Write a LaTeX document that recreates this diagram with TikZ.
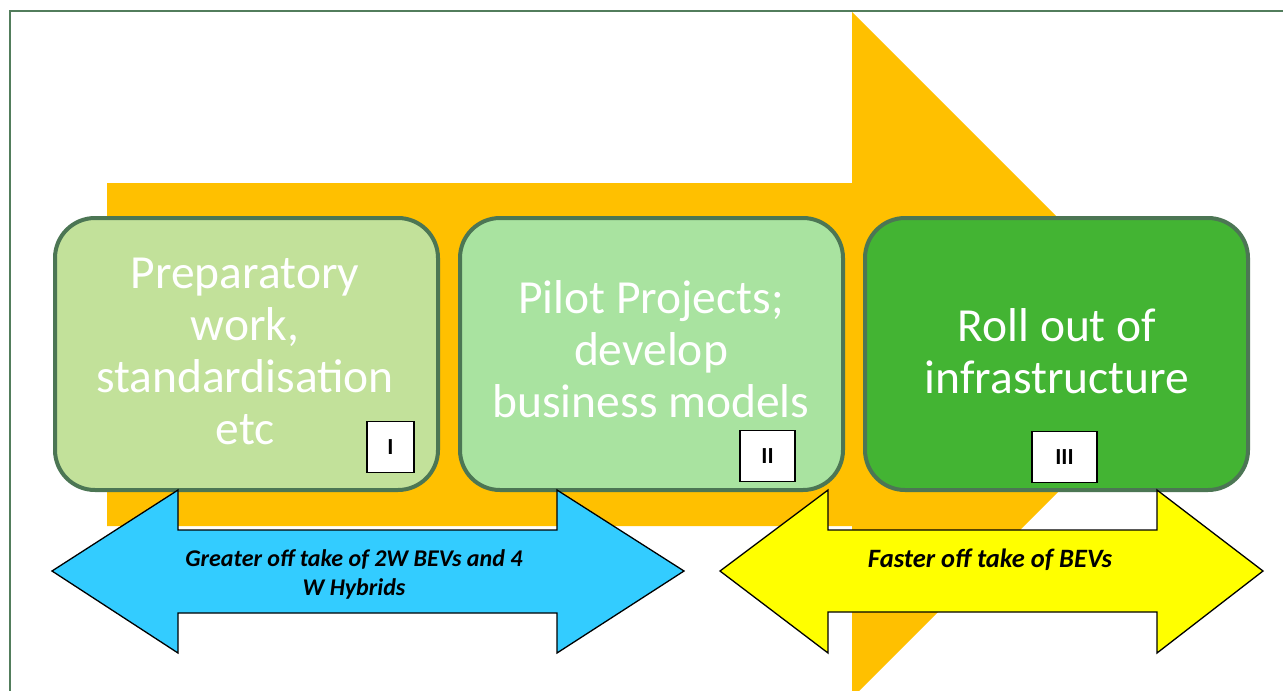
\documentclass[tikz,border=0pt]{standalone}
\usepackage{fontspec}
\setmainfont{Carlito}
\definecolor{framegreen}{RGB}{82,125,92}
\definecolor{boxborder}{RGB}{76,118,84}
\definecolor{orangeA}{RGB}{255,192,0}
\definecolor{fillA}{RGB}{194,225,154}
\definecolor{fillB}{RGB}{169,227,160}
\definecolor{fillC}{RGB}{67,180,51}
\definecolor{blueA}{RGB}{51,204,255}
\definecolor{yellowA}{RGB}{255,255,0}
\begin{document}
\begin{tikzpicture}[x=1pt,y=-1pt,
  stagebox/.style={draw=boxborder, line width=4pt, rounded corners=40pt,
    minimum width=383pt, minimum height=272pt, inner sep=0pt},
  stagetext/.style={text=white, align=center, inner sep=0pt,
    font=\fontsize{47.5}{52}\selectfont},
  numbox/.style={draw=black, fill=white, line width=1.5pt, inner sep=0pt,
    minimum height=51pt, font=\fontsize{23}{26}\selectfont\bfseries},
  bigarrow/.style={draw=black, line width=1.3pt, line join=miter},
  arrowtext/.style={align=center, inner sep=0pt,
    font=\fontsize{24}{29}\selectfont\bfseries\itshape}
]
\useasboundingbox (0,0) rectangle (1283,691);
\fill[white] (0,0) rectangle (1283,691);
% frame
\draw[framegreen, line width=2.5pt] (10,700) -- (10,11) -- (1300,11);
% big orange arrow
\fill[orangeA] (107,183) -- (852,183) -- (852,12) -- (1195,355) -- (852,698)
  -- (852,526) -- (107,526) -- cycle;
% stage boxes
\node[stagebox, fill=fillA] (b1) at (246.5,354) {};
\node[stagebox, fill=fillB] (b2) at (651.5,354) {};
\node[stagebox, fill=fillC] (b3) at (1056.5,354) {};
\node[stagetext] (t1) at (245,351) {Preparatory\\work,\\standardisation\\etc};
\node[stagetext] (t2) at (651,349) {Pilot Projects;\\develop\\business models};
\node[stagetext] (t3) at (1057,351) {Roll out of\\infrastructure};
% numeral boxes
\node[numbox, minimum width=47pt] (n1) at (390.5,447) {I};
\node[numbox, minimum width=55pt] (n2) at (767.5,456) {II};
\node[numbox, minimum width=65pt] (n3) at (1064.5,457) {III};
% bottom double arrows
\draw[bigarrow, fill=blueA] (52,571) -- (178,490) -- (178,530) -- (557,530)
  -- (557,490) -- (684,571) -- (557,653) -- (557,613) -- (178,613)
  -- (178,653) -- cycle;
\draw[bigarrow, fill=yellowA] (720,571) -- (828,490) -- (828,530) -- (1157,530)
  -- (1157,490) -- (1263,571) -- (1157,653) -- (1157,612) -- (828,612)
  -- (828,653) -- cycle;
\node[arrowtext] (a1) at (354,574) {Greater off take of 2W BEVs and 4\\W Hybrids};
\node[arrowtext, font=\fontsize{26.5}{30}\selectfont\bfseries\itshape] (a2) at (990,560) {Faster off take of BEVs};
\end{tikzpicture}
\end{document}
